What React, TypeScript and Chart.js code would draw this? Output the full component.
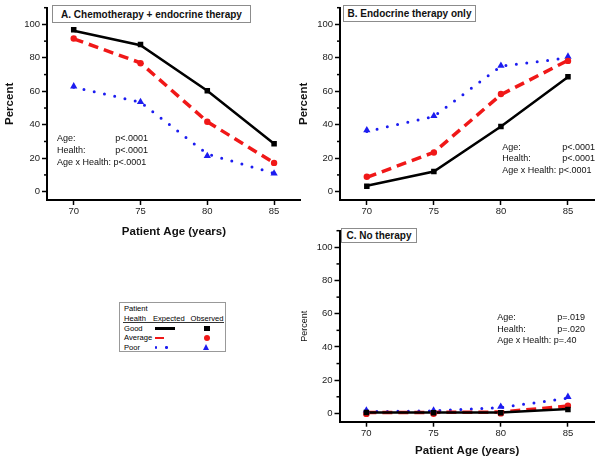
import React, { useEffect, useRef } from "react";
import { Chart, registerables } from "chart.js";
Chart.register(...registerables);

// ---------- data ----------
const ages = [70, 75, 80, 85];
const xTicks = [70, 75, 80, 85];
const yTicks = [0, 20, 40, 60, 80, 100];
const yMinorTicks = [10, 30, 50, 70, 90, 110];

// Panel A: chemotherapy + endocrine therapy
const chemoGoodObs = [96.8, 88.0, 60.3, 28.6];
const chemoAvgObs = [91.6, 76.8, 41.8, 17.2];
const chemoPoorObs = [63.0, 53.7, 21.4, 10.9];
const chemoGoodExp = [96.2, 87.6, 60.3, 28.6];
const chemoAvgExp = [91.4, 77.0, 41.8, 17.2];
const chemoPoorExp = [62.5, 53.5, 22.5, 11.0];

// Panel B: endocrine therapy only
const endoGoodObs = [3.2, 12.1, 39.0, 68.7];
const endoAvgObs = [8.9, 23.4, 58.4, 78.2];
const endoPoorObs = [36.7, 45.3, 75.3, 80.8];
const endoGoodExp = [3.5, 12.0, 39.0, 68.5];
const endoAvgExp = [8.5, 23.5, 58.0, 78.5];
const endoPoorExp = [36.0, 45.0, 75.0, 80.0];

// Panel C: no therapy
const noneGoodObs = [0.5, 0.4, 0.4, 2.3];
const noneAvgObs = [-0.3, -0.2, 0.0, 4.6];
const nonePoorObs = [1.8, 1.8, 4.0, 10.0];
const noneGoodExp = [0.6, 0.6, 0.6, 2.6];
const noneAvgExp = [0.6, 0.6, 0.8, 4.4];
const nonePoorExp = [1.0, 1.5, 3.5, 9.2];

const chemoStats = [["Age:", "p<.0001"], ["Health:", "p<.0001"]];
const chemoInteraction = "Age x Health: p<.0001";
const endoStats = [["Age:", "p<.0001"], ["Health:", "p<.0001"]];
const endoInteraction = "Age x Health: p<.0001";
const noneStats = [["Age:", "p=.019"], ["Health:", "p=.020"]];
const noneInteraction = "Age x Health: p=.40";

// ---------- styles ----------
const FONT = "'Liberation Sans', Arial, sans-serif";
const BLACK = "#000000";
const RED = "#f01818";
const BLUE = "#1c1cf0";

const pts = (vals: number[]) => ages.map((a, i) => ({ x: a, y: vals[i] }));

function buildDatasets(gO: number[], aO: number[], pO: number[], gE: number[], aE: number[], pE: number[]) {
  return [
    { label: "Good obs", data: pts(gO), showLine: false, pointStyle: "rect", pointRadius: 3.9, backgroundColor: BLACK, borderColor: BLACK, pointBorderWidth: 0 },
    { label: "Average obs", data: pts(aO), showLine: false, pointStyle: "circle", pointRadius: 3.2, backgroundColor: RED, borderColor: RED, pointBorderWidth: 0 },
    { label: "Poor obs", data: pts(pO), showLine: false, pointStyle: "triangle", pointRadius: 4.2, backgroundColor: BLUE, borderColor: BLUE, pointBorderWidth: 0 },
    { label: "Good exp", data: pts(gE), showLine: true, pointRadius: 0, borderColor: BLACK, borderWidth: 2.5, tension: 0 },
    { label: "Average exp", data: pts(aE), showLine: true, pointRadius: 0, borderColor: RED, borderWidth: 3.5, borderDash: [10, 6], tension: 0 },
    { label: "Poor exp", data: pts(pE), showLine: true, pointRadius: 0, borderColor: BLUE, borderWidth: 3, borderDash: [0, 10.5], borderCapStyle: "round", tension: 0 },
  ];
}

const minorTickPlugin = {
  id: "minorTicks",
  afterDraw(chart: any) {
    const s = chart.scales.y;
    const ctx = chart.ctx;
    ctx.save();
    ctx.strokeStyle = "#000";
    ctx.lineWidth = 1.5;
    for (const v of yMinorTicks) {
      const y = s.getPixelForValue(v);
      ctx.beginPath();
      ctx.moveTo(s.right - 3, y);
      ctx.lineTo(s.right, y);
      ctx.stroke();
    }
    ctx.restore();
  },
};

type PanelCfg = {
  datasets: any[];
  yWidth: number;
  xHeight: number;
  padding: { top: number; right: number; bottom: number; left: number };
  yTitle: { size: number; bold: boolean; pad: number };
  xTitle?: { pad: number };
};

function makeConfig(cfg: PanelCfg): any {
  return {
    type: "scatter",
    data: { datasets: cfg.datasets },
    options: {
      animation: false,
      responsive: false,
      devicePixelRatio: 1,
      layout: { padding: cfg.padding },
      plugins: { legend: { display: false }, tooltip: { enabled: false } },
      scales: {
        x: {
          type: "linear",
          min: 68,
          max: 87,
          afterBuildTicks: (s: any) => { s.ticks = xTicks.map((v) => ({ value: v })); },
          afterFit: (s: any) => { s.height = cfg.xHeight; },
          grid: { display: true, drawOnChartArea: false, drawTicks: true, tickLength: 5, tickWidth: 1.5, tickColor: "#000" },
          border: { display: true, color: "#000", width: 2 },
          ticks: { font: { family: FONT, size: 9.5 }, color: "#222", padding: 1, maxRotation: 0, autoSkip: false },
          title: cfg.xTitle
            ? { display: true, text: "Patient Age (years)", color: "#111", font: { family: FONT, size: 11.5, weight: "bold" }, padding: { top: 0, bottom: cfg.xTitle.pad } }
            : { display: false },
        },
        y: {
          type: "linear",
          min: -5,
          max: 110,
          afterBuildTicks: (s: any) => { s.ticks = yTicks.map((v) => ({ value: v })); },
          afterFit: (s: any) => { s.width = cfg.yWidth; },
          grid: { display: true, drawOnChartArea: false, drawTicks: true, tickLength: 5, tickWidth: 1.5, tickColor: "#000" },
          border: { display: true, color: "#000", width: 2 },
          ticks: { font: { family: FONT, size: 9.5 }, color: "#222", padding: 2 },
          title: {
            display: true,
            text: "Percent",
            color: "#111",
            font: { family: FONT, size: cfg.yTitle.size, weight: cfg.yTitle.bold ? "bold" : "normal" },
            padding: { top: cfg.yTitle.pad, bottom: 0 },
          },
        },
      },
    },
    plugins: [minorTickPlugin],
  };
}

function Panel(props: { left: number; top: number; width: number; height: number; cfg: PanelCfg }) {
  const ref = useRef<HTMLCanvasElement | null>(null);
  useEffect(() => {
    if (!ref.current) return;
    const chart = new Chart(ref.current, makeConfig(props.cfg));
    return () => chart.destroy();
  }, []);
  return (
    <canvas
      ref={ref}
      width={props.width}
      height={props.height}
      style={{ position: "absolute", left: props.left, top: props.top, width: props.width, height: props.height }}
    />
  );
}

function TitleBox(p: { left: number; top: number; width: number; height: number; text: string }) {
  return (
    <div
      style={{
        position: "absolute", left: p.left, top: p.top, width: p.width, height: p.height,
        boxSizing: "border-box", border: "1px solid #8c8c8c", background: "#fff",
        fontWeight: "bold", fontSize: 10, color: "#111", display: "flex", alignItems: "center",
        justifyContent: "center", whiteSpace: "nowrap",
      }}
    >
      {p.text}
    </div>
  );
}

function Stats(p: { x: number; y: number; gap: number; valueRight: number; rows: string[][]; last: string }) {
  const base: React.CSSProperties = { position: "absolute", fontSize: 9, lineHeight: "12px", whiteSpace: "nowrap", color: "#111" };
  return (
    <>
      {p.rows.map((r, i) => (
        <React.Fragment key={i}>
          <div style={{ ...base, left: p.x, top: p.y + i * p.gap - 6 }}>{r[0]}</div>
          <div style={{ ...base, left: p.valueRight, top: p.y + i * p.gap - 6, transform: "translateX(-100%)" }}>{r[1]}</div>
        </React.Fragment>
      ))}
      <div style={{ ...base, left: p.x, top: p.y + p.rows.length * p.gap - 6 }}>{p.last}</div>
    </>
  );
}

function Legend() {
  const t: React.CSSProperties = { position: "absolute", fontSize: 7.6, lineHeight: "10px", whiteSpace: "nowrap", color: "#000" };
  return (
    <>
      <div style={{ position: "absolute", left: 119, top: 302, width: 107, height: 50, boxSizing: "border-box", border: "1px solid #999", background: "#fff" }} />
      <div style={{ ...t, left: 124, top: 304 }}>Patient</div>
      <div style={{ ...t, left: 124, top: 314 }}>Health</div>
      <div style={{ ...t, left: 153, top: 314 }}>Expected</div>
      <div style={{ ...t, left: 190.5, top: 314 }}>Observed</div>
      <div style={{ position: "absolute", left: 123, top: 322, width: 101, height: 1, background: "#333" }} />
      <div style={{ ...t, left: 124, top: 323.5 }}>Good</div>
      <div style={{ ...t, left: 124, top: 333 }}>Average</div>
      <div style={{ ...t, left: 124, top: 342.5 }}>Poor</div>
      <div style={{ position: "absolute", left: 155, top: 327.3, width: 20, height: 2.5, background: BLACK }} />
      <div style={{ position: "absolute", left: 154.5, top: 336.5, width: 9, height: 2.5, background: RED }} />
      <div style={{ position: "absolute", left: 154.7, top: 346, width: 2.6, height: 2.6, borderRadius: "50%", background: BLUE }} />
      <div style={{ position: "absolute", left: 165.4, top: 346, width: 2.6, height: 2.6, borderRadius: "50%", background: BLUE }} />
      <div style={{ position: "absolute", left: 204, top: 325.8, width: 5.5, height: 5.5, background: BLACK }} />
      <div style={{ position: "absolute", left: 203.7, top: 334.7, width: 6.4, height: 6.4, borderRadius: "50%", background: RED }} />
      <div style={{ position: "absolute", left: 203.2, top: 343.8, width: 0, height: 0, borderLeft: "3.6px solid transparent", borderRight: "3.6px solid transparent", borderBottom: "6.3px solid " + BLUE }} />
    </>
  );
}

const panelA: PanelCfg = {
  datasets: buildDatasets(chemoGoodObs, chemoAvgObs, chemoPoorObs, chemoGoodExp, chemoAvgExp, chemoPoorExp),
  yWidth: 47, xHeight: 45,
  padding: { top: 5, right: 2, bottom: 0, left: 0 },
  yTitle: { size: 11.5, bold: true, pad: 3 },
  xTitle: { pad: 6 },
};
const panelB: PanelCfg = {
  datasets: buildDatasets(endoGoodObs, endoAvgObs, endoPoorObs, endoGoodExp, endoAvgExp, endoPoorExp),
  yWidth: 45, xHeight: 25,
  padding: { top: 5, right: 2, bottom: 0, left: 0 },
  yTitle: { size: 11.5, bold: true, pad: 2 },
};
const panelC: PanelCfg = {
  datasets: buildDatasets(noneGoodObs, noneAvgObs, nonePoorObs, noneGoodExp, noneAvgExp, nonePoorExp),
  yWidth: 44.5, xHeight: 41.3,
  padding: { top: 5, right: 2, bottom: 0, left: 0 },
  yTitle: { size: 9, bold: false, pad: 4.6 },
  xTitle: { pad: 5.4 },
};

export default function App() {
  return (
    <div style={{ position: "absolute", left: 0, top: 0, width: 602, height: 463, background: "#fff", fontFamily: FONT, overflow: "hidden" }}>
      <Panel left={0} top={0} width={305} height={245} cfg={panelA} />
      <Panel left={295} top={0} width={304} height={225} cfg={panelB} />
      <Panel left={295} top={223} width={304} height={240} cfg={panelC} />
      <TitleBox left={52} top={5} width={199} height={18} text="A. Chemotherapy + endocrine therapy" />
      <TitleBox left={343} top={5} width={133} height={17} text="B. Endocrine therapy only" />
      <TitleBox left={341} top={228} width={76} height={15} text="C. No therapy" />
      <Stats x={57} y={137.7} gap={12.3} valueRight={148} rows={chemoStats} last={chemoInteraction} />
      <Stats x={502.3} y={146.7} gap={11.7} valueRight={595} rows={endoStats} last={endoInteraction} />
      <Stats x={497.3} y={317.3} gap={11.5} valueRight={585} rows={noneStats} last={noneInteraction} />
      <Legend />
    </div>
  );
}
